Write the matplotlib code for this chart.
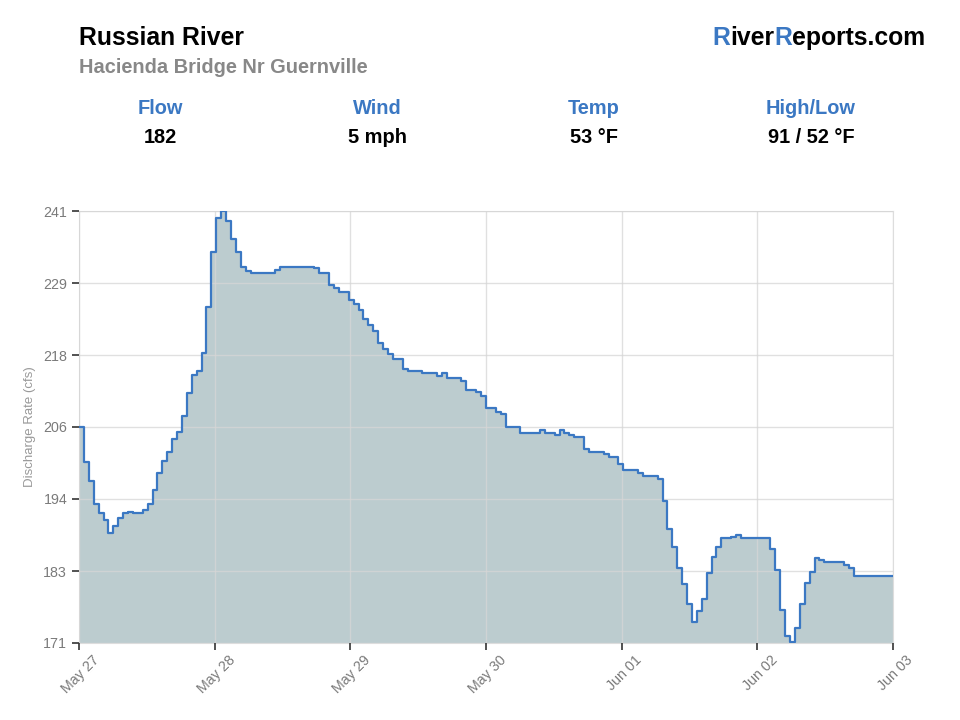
import numpy as np
import matplotlib.pyplot as plt
import matplotlib.transforms as mtransforms
from matplotlib.ticker import FormatStrFormatter

plt.rcParams['font.family'] = ['Liberation Sans', 'DejaVu Sans']

# discharge readings (cfs), one per step of the chart
flow = [206.0, 200.4, 197.3, 193.5, 192.0, 190.9, 188.9, 190.0, 191.3, 192.0,
        192.3, 192.0, 192.0, 192.5, 193.5, 195.8, 198.6, 200.5, 202.0, 204.0,
        205.2, 207.8, 211.5, 214.4, 215.1, 218.0, 225.5, 234.4, 239.8, 241.0,
        239.3, 236.4, 234.4, 232.0, 231.3, 231.0, 231.0, 231.0, 231.0, 231.0,
        231.4, 232.0, 232.0, 232.0, 232.0, 232.0, 232.0, 232.0, 231.8, 231.0,
        231.0, 229.0, 228.5, 227.9, 227.9, 226.5, 225.9, 225.0, 223.5, 222.5,
        221.6, 219.6, 218.6, 217.8, 217.0, 217.0, 215.4, 215.1, 215.1, 215.1,
        214.8, 214.8, 214.8, 214.3, 214.8, 214.0, 214.0, 214.0, 213.5, 212.0,
        212.0, 211.6, 211.1, 209.0, 209.0, 208.4, 208.1, 206.0, 206.0, 206.0,
        205.0, 205.0, 205.0, 205.0, 205.5, 205.0, 205.0, 204.7, 205.5, 205.0,
        204.7, 204.4, 204.3, 202.5, 202.0, 202.0, 202.0, 201.6, 201.1, 201.1,
        200.0, 199.0, 199.0, 199.0, 198.6, 198.1, 198.1, 198.1, 197.5, 194.0,
        189.5, 186.5, 183.2, 180.5, 177.3, 174.4, 176.2, 178.2, 182.3, 185.0,
        186.5, 188.0, 188.0, 188.2, 188.5, 188.0, 188.0, 188.0, 188.0, 188.0,
        188.0, 186.3, 182.8, 176.3, 172.1, 171.1, 173.5, 177.3, 180.8, 182.5,
        184.8, 184.4, 184.1, 184.1, 184.1, 184.1, 183.6, 183.1, 181.9, 181.9,
        181.9, 181.9, 181.9, 181.9, 181.9, 181.9]

date_labels = ['May 27', 'May 28', 'May 29', 'May 30', 'Jun 01', 'Jun 02', 'Jun 03']
stat_names = ['Flow', 'Wind', 'Temp', 'High/Low']
stat_values = ['182', '5 mph', '53 °F', '91 / 52 °F']

blue = '#3b78c3'
W, H = 960, 720

fig = plt.figure(figsize=(9.6, 7.2), dpi=100)
ax = fig.add_axes([79 / W, 1 - 643 / H, 814 / W, 432 / H])

# step series: each reading holds until the next one
y = np.append(flow, flow[-1])
x = np.arange(len(y))
ax.fill_between(x, y, 171, step='post', color='#bccccf', linewidth=0, zorder=1)
ax.step(x, y, where='post', color=blue, linewidth=1.6, zorder=3)

ax.set_xlim(0, len(flow))
ax.set_ylim(171, 241)
ax.set_yticks(np.linspace(171, 241, 7))
ax.yaxis.set_major_formatter(FormatStrFormatter('%.0f'))
xt = np.linspace(0, len(flow), 7)
ax.set_xticks(xt)
ax.set_xticklabels([])
# rotated date labels, nudged right of the tick like the original
lbl_tr = mtransforms.offset_copy(ax.get_xaxis_transform(), fig=fig, x=13, y=-10, units='dots')
for pos, lab in zip(xt, date_labels):
    ax.text(pos, 0, lab, transform=lbl_tr, rotation=45, rotation_mode='anchor',
            ha='right', va='top', fontsize=10.3, color='#7a7a7a', clip_on=False)

ax.set_axisbelow(False)
ax.grid(True, color='#d6d6d6', linewidth=1, alpha=0.75)
for s in ax.spines.values():
    s.set_color('#dddddd')
ax.tick_params(axis='both', colors='#333333', labelcolor='#7a7a7a',
               labelsize=10.3, length=5, width=1.2)
ax.set_ylabel('Discharge Rate (cfs)', color='#999999', fontsize=9.5, labelpad=5)

# header
fig.text(79 / W, 1 - 45 / H, 'Russian River', fontsize=17.8, fontweight='bold',
         color='black', va='baseline')
fig.text(79 / W, 1 - 73 / H, 'Hacienda Bridge Nr Guernville', fontsize=14.4,
         fontweight='bold', color='#888888', va='baseline')

# logo: draw pieces right to left
renderer = fig.canvas.get_renderer()
pieces = [('R', blue, 7), ('iver', 'black', 0), ('R', blue, 0), ('eports.com', 'black', 0)]
xr = 925
for s, c, gap in reversed(pieces):
    t = fig.text(xr / W, 1 - 45 / H, s, fontsize=17.8, fontweight='bold', color=c,
                 ha='right', va='baseline')
    xr -= t.get_window_extent(renderer).width + gap

for cx, name, val in zip([160, 377, 594, 811], stat_names, stat_values):
    fig.text(cx / W, 1 - 114 / H, name, fontsize=14.4, fontweight='bold', color=blue,
             ha='center', va='baseline')
    fig.text(cx / W, 1 - 143 / H, val, fontsize=14.4, fontweight='bold', color='black',
             ha='center', va='baseline')

fig.savefig('out.png', dpi=100)
